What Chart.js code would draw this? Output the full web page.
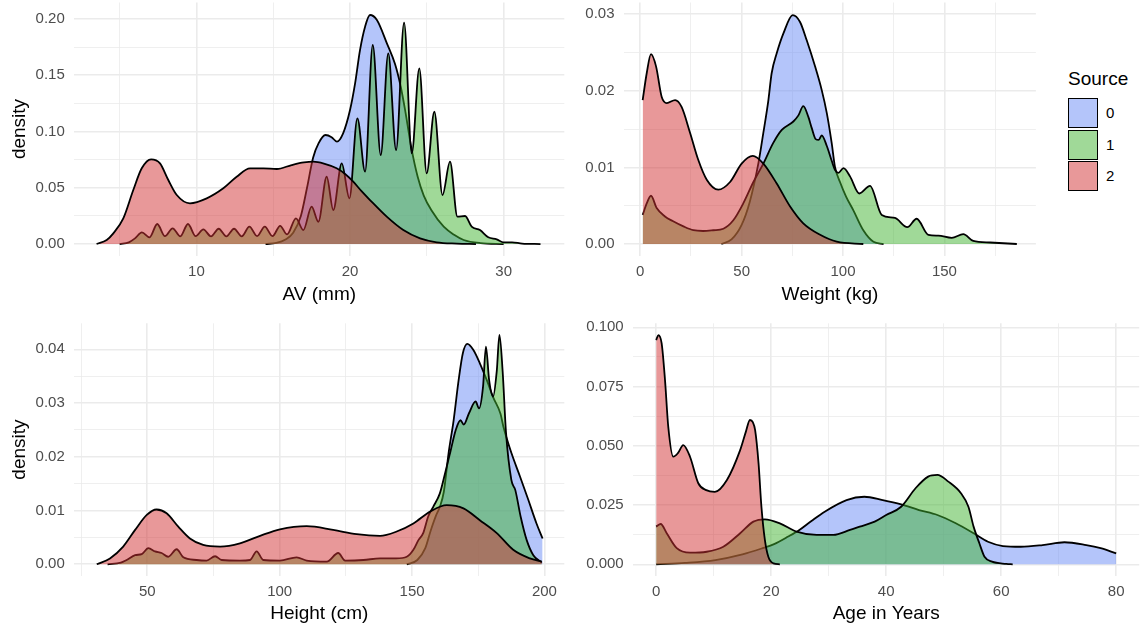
<!DOCTYPE html>
<html>
<head>
<meta charset="utf-8">
<script src="https://cdn.jsdelivr.net/npm/chart.js@4.4.0/dist/chart.umd.min.js"></script>
<style>
body { margin:0; background:#fff; width:1141px; height:629px; position:relative; overflow:hidden;
       font-family:"Liberation Sans", Arial, sans-serif; }
canvas { position:absolute; }
.key { position:absolute; left:1068px; width:30px; height:30px; box-sizing:border-box; border:1.8px solid #000; }
.lab { position:absolute; left:1106px; font-size:15px; line-height:18px; color:#000; }
</style>
</head>
<body>
<canvas id="av" width="570" height="310" style="left:0;top:0"></canvas>
<canvas id="weight" width="470" height="310" style="left:570px;top:0"></canvas>
<canvas id="height" width="570" height="319" style="left:0;top:310px"></canvas>
<canvas id="age" width="571" height="319" style="left:570px;top:310px"></canvas>

<div class="lab" style="left:1068px;top:68px;font-size:19px;line-height:22px">Source</div>
<div id="keys"></div>

<script>
// legend / groups
var sources = ['0', '1', '2'];
var fills = ['rgba(105,140,245,0.5)', 'rgba(65,180,50,0.5)', 'rgba(210,50,52,0.5)'];

// ---- AV (mm)
var avBlueX = [14.5, 15.2, 15.8, 16.3, 16.8, 17.2, 17.6, 17.95, 18.4, 18.8, 19.15, 19.55, 20.0, 20.33, 20.65, 20.98, 21.3, 21.75, 22.4, 22.93, 23.3, 23.6, 24.0, 24.4, 24.8, 25.3, 26.1, 26.8, 27.4, 28.5, 30];
var avBlueY = [0, 0.001, 0.004, 0.01, 0.025, 0.05, 0.077, 0.0895, 0.0969, 0.095, 0.091, 0.0984, 0.1191, 0.1428, 0.1724, 0.1932, 0.2036, 0.1991, 0.1784, 0.16, 0.14, 0.118, 0.085, 0.06, 0.043, 0.03, 0.0154, 0.008, 0.0036, 0.0008, 0];
var avGreenX = [5.0, 5.6, 6.0, 6.45, 6.95, 7.45, 7.95, 8.45, 8.95, 9.45, 9.95, 10.45, 10.95, 11.45, 11.95, 12.45, 12.95, 13.45, 13.95, 14.45, 14.95, 15.45, 15.9, 16.48, 16.96, 17.5, 17.94, 18.48, 18.91, 19.46, 19.96, 20.48, 20.98, 21.48, 22.0, 22.49, 23.0, 23.52, 24.02, 24.51, 24.99, 25.49, 26.02, 26.51, 26.99, 27.49, 27.92, 28.46, 29.0, 29.55, 30.0, 30.55, 31.2, 32.4];
var avGreenY = [0, 0.0015, 0.005, 0.0104, 0.006, 0.0178, 0.007, 0.014, 0.0068, 0.0178, 0.007, 0.013, 0.0068, 0.0136, 0.0068, 0.0136, 0.0068, 0.0154, 0.007, 0.0154, 0.007, 0.0162, 0.0085, 0.0228, 0.0124, 0.0332, 0.0198, 0.0598, 0.0302, 0.0717, 0.0406, 0.1117, 0.0643, 0.1769, 0.0791, 0.1695, 0.0836, 0.1967, 0.0806, 0.1561, 0.0628, 0.1176, 0.0436, 0.0732, 0.0243, 0.0249, 0.0154, 0.0124, 0.006, 0.0042, 0.0015, 0.0015, 0.0004, 0];
var avRedX = [3.5, 4.16, 4.59, 5.24, 5.89, 6.44, 7.05, 7.63, 8.17, 8.72, 9.58, 10.67, 11.75, 12.62, 13.49, 14.36, 15.23, 16.2, 17.0, 17.6, 18.3, 19.13, 19.7, 20.21, 20.75, 21.3, 22.39, 23.47, 24.56, 25.64, 26.95, 28.2];
var avRedY = [0, 0.0036, 0.0095, 0.0228, 0.048, 0.0673, 0.0753, 0.0717, 0.0569, 0.0436, 0.0362, 0.0406, 0.0495, 0.0598, 0.0673, 0.0673, 0.0667, 0.0702, 0.0725, 0.0732, 0.0715, 0.0673, 0.062, 0.0554, 0.047, 0.0391, 0.0243, 0.0124, 0.005, 0.0015, 0.0004, 0];

// ---- Weight (kg)
var wBlueX = [40, 45, 50, 54, 58.3, 60.7, 63.2, 64.8, 67.3, 70.6, 75.2, 78.8, 82.1, 86.2, 89.5, 92, 94.4, 96, 98.5, 101.5, 105.1, 110, 115, 120];
var wBlueY = [0, 0.0006, 0.0025, 0.0055, 0.0106, 0.0145, 0.0188, 0.0223, 0.0249, 0.0275, 0.0299, 0.029, 0.0266, 0.0232, 0.0201, 0.0171, 0.0132, 0.0101, 0.0081, 0.0062, 0.0044, 0.0018, 0.0003, 0];
var wGreenX = [1.2, 3.2, 5.3, 8.1, 12.2, 16, 21.3, 26.2, 31, 36, 41, 45.9, 50.8, 55.8, 60.7, 65.6, 69.8, 75.5, 78, 80.4, 82.9, 84.5, 86.5, 88, 89.5, 92, 94.5, 96, 97.7, 100.2, 103.5, 108, 113.3, 119.1, 125.6, 131.7, 136.3, 142.1, 147, 153.6, 159.3, 164.2, 172.5, 185.7];
var wGreenY = [0.0038, 0.0053, 0.0063, 0.0047, 0.0036, 0.003, 0.0023, 0.0018, 0.0017, 0.0018, 0.002, 0.0031, 0.0053, 0.0081, 0.0105, 0.0132, 0.0149, 0.016, 0.0168, 0.018, 0.0166, 0.0152, 0.0137, 0.0136, 0.0142, 0.0128, 0.0108, 0.0097, 0.0093, 0.0099, 0.0088, 0.0066, 0.0076, 0.0038, 0.0034, 0.0022, 0.0033, 0.0012, 0.0011, 0.0008, 0.0013, 0.0004, 0.0002, 0];
var wRedX = [1.2, 3.2, 5.3, 7.8, 10.6, 13.1, 17.2, 20.4, 24.6, 28.6, 32.8, 38.5, 44.3, 50, 55.5, 60.7, 67.3, 73.9, 80.4, 88.7, 96.9, 110];
var wRedY = [0.0188, 0.0223, 0.0248, 0.0232, 0.0192, 0.0184, 0.0188, 0.0179, 0.0145, 0.011, 0.0084, 0.0071, 0.0081, 0.0105, 0.0115, 0.0105, 0.0079, 0.0049, 0.0027, 0.0012, 0.0003, 0];

// ---- Height (cm)
var hBlueX = [148, 152, 155, 157, 159, 160.5, 162, 163.8, 165.7, 167.6, 169.2, 170.9, 173.1, 175.6, 178.2, 180.7, 183.4, 184.5, 187.6, 190.8, 193.9, 197, 199.3];
var hBlueY = [0, 0.0008, 0.003, 0.0062, 0.009, 0.0107, 0.0135, 0.0207, 0.0268, 0.0343, 0.0393, 0.041, 0.0399, 0.0374, 0.0343, 0.031, 0.028, 0.0256, 0.0206, 0.0163, 0.012, 0.0076, 0.0048];
var hGreenX = [35, 40, 42.2, 45.4, 47.9, 50.4, 52.9, 55.4, 57.9, 61.1, 63.6, 68.6, 72.4, 75.6, 78.1, 85, 88.8, 91.3, 93.8, 100.1, 106.4, 110.2, 117.8, 122.1, 124.7, 131.6, 137.9, 144, 148, 150.5, 152.4, 154.2, 156.1, 158, 160.5, 162.5, 164.5, 166.5, 168.3, 169.5, 171.5, 174, 175.3, 176.8, 177.9, 179.1, 180.6, 182, 183, 184.2, 185.5, 187.5, 189, 191, 193.3, 195.8, 199];
var hGreenY = [0, 0.0003, 0.0008, 0.0017, 0.0019, 0.003, 0.0024, 0.0021, 0.0014, 0.0028, 0.0013, 0.0008, 0.0007, 0.0015, 0.0008, 0.0007, 0.0008, 0.0024, 0.0008, 0.0007, 0.0013, 0.0007, 0.0005, 0.0021, 0.0007, 0.0008, 0.0011, 0.0011, 0.0014, 0.0027, 0.0045, 0.0058, 0.0089, 0.0107, 0.0132, 0.017, 0.021, 0.025, 0.0268, 0.026, 0.0281, 0.0303, 0.029, 0.033, 0.0405, 0.0343, 0.0312, 0.036, 0.0427, 0.036, 0.0244, 0.0157, 0.0138, 0.0089, 0.0045, 0.0017, 0.0003];
var hRedX = [30.9, 35.9, 40.9, 45.4, 49.8, 53.5, 57.3, 61.7, 66.1, 71.1, 77.5, 85, 92.6, 100.1, 110.2, 120.2, 129.1, 137.9, 144.2, 150.5, 156.8, 163.1, 169.4, 175.6, 182, 188.2, 194.5, 199];
var hRedY = [0, 0.0011, 0.0033, 0.0064, 0.0092, 0.0102, 0.0095, 0.007, 0.0048, 0.0036, 0.0033, 0.0039, 0.0053, 0.0065, 0.0071, 0.0064, 0.0056, 0.0053, 0.0061, 0.0076, 0.0098, 0.011, 0.0104, 0.0082, 0.0058, 0.0027, 0.0011, 0.0005];

// ---- Age in Years
var aBlueX = [0, 5, 10.3, 15, 18.5, 20.5, 22.96, 24.9, 27, 29.3, 33.1, 36.2, 39.4, 42.6, 45.7, 48.9, 52.1, 55.2, 57.7, 60.3, 63.4, 67.2, 71, 74.8, 77.3, 80];
var aBlueY = [0, 0.0006, 0.0018, 0.0042, 0.0068, 0.0085, 0.0117, 0.0145, 0.0183, 0.0222, 0.0271, 0.0285, 0.0271, 0.0253, 0.0229, 0.0208, 0.0173, 0.0131, 0.0095, 0.0077, 0.0074, 0.0081, 0.0093, 0.0081, 0.0068, 0.0046];
var aGreenX = [0, 0.78, 1.83, 3.57, 5.88, 8.78, 11.67, 14.6, 16.9, 18.9, 21.5, 24.4, 27.9, 30.8, 33.7, 35.4, 38, 40, 42.6, 45.1, 47.3, 48.9, 50.8, 53, 54.3, 55.2, 56.2, 57.1, 58.4, 60.9, 62];
var aGreenY = [0.0159, 0.017, 0.0131, 0.0068, 0.0049, 0.0053, 0.0074, 0.0131, 0.018, 0.019, 0.0173, 0.0138, 0.0124, 0.0124, 0.0145, 0.0159, 0.018, 0.0208, 0.0243, 0.0321, 0.037, 0.0377, 0.0349, 0.03, 0.0243, 0.0159, 0.0089, 0.0032, 0.0011, 0.0002, 0];
var aRedX = [0, 0.37, 0.95, 1.53, 2.1, 2.97, 3.8, 4.7, 5.88, 7.32, 8.7, 10.2, 12.3, 14.6, 15.6, 16.3, 16.8, 17.2, 17.8, 18.3, 18.9, 19.5, 20.4, 21.5];
var aRedY = [0.0946, 0.0967, 0.0932, 0.0778, 0.058, 0.0454, 0.047, 0.0503, 0.0454, 0.0342, 0.0313, 0.0306, 0.0356, 0.0482, 0.056, 0.0609, 0.06, 0.0567, 0.0426, 0.0243, 0.0103, 0.0032, 0.0004, 0];

// axis ticks (major = labelled, minor = grid only)
var avXMajor = [10, 20, 30], avXMinor = [5, 15, 25];
var avYMajor = [0, 0.05, 0.1, 0.15, 0.2], avYMinor = [0.025, 0.075, 0.125, 0.175];
var wXMajor = [0, 50, 100, 150], wXMinor = [25, 75, 125, 175];
var wYMajor = [0, 0.01, 0.02, 0.03], wYMinor = [0.005, 0.015, 0.025];
var hXMajor = [50, 100, 150, 200], hXMinor = [25, 75, 125, 175];
var hYMajor = [0, 0.01, 0.02, 0.03, 0.04], hYMinor = [0.005, 0.015, 0.025, 0.035];
var aXMajor = [0, 20, 40, 60, 80], aXMinor = [10, 30, 50, 70];
var aYMajor = [0, 0.025, 0.05, 0.075, 0.1], aYMinor = [0.0125, 0.0375, 0.0625, 0.0875];

Chart.defaults.font.family = '"Liberation Sans", Arial, sans-serif';

function pts(xs, ys) {
  return xs.map(function (x, i) { return { x: x, y: ys[i] }; });
}

function axis(major, minor, min, max, fmt, title, o) {
  var all = major.concat(minor).sort(function (a, b) { return a - b; });
  return {
    type: 'linear', min: min, max: max,
    afterBuildTicks: function (s) { s.ticks = all.map(function (v) { return { value: v }; }); },
    afterFit: o.fit,
    ticks: {
      autoSkip: false, maxRotation: 0, padding: o.pad, color: '#4d4d4d', font: { size: 15 },
      callback: function (v) { return major.indexOf(v) >= 0 ? fmt(v) : ''; }
    },
    grid: {
      drawTicks: false, color: '#ebebeb',
      lineWidth: function (c) { return (c.tick && major.indexOf(c.tick.value) >= 0) ? 1.6 : 0.8; }
    },
    border: { display: false },
    title: { display: !!title, text: title, color: '#000', font: { size: 19 }, padding: o.tpad }
  };
}

function panel(id, p) {
  var series = [[p.bx, p.by], [p.gx, p.gy], [p.rx, p.ry]];
  var datasets = series.map(function (s, i) {
    return {
      label: sources[i], data: pts(s[0], s[1]), fill: 'origin',
      backgroundColor: fills[i], borderColor: '#000', borderWidth: 1.8,
      pointRadius: 0, cubicInterpolationMode: 'monotone', order: 3 - i
    };
  });
  new Chart(document.getElementById(id), {
    type: 'line',
    data: { datasets: datasets },
    options: {
      responsive: false, animation: false, devicePixelRatio: 1, events: [],
      layout: { padding: { left: 0, top: p.top, right: p.right, bottom: 0 } },
      plugins: { legend: { display: false }, tooltip: { enabled: false }, filler: { drawTime: 'beforeDatasetDraw' } },
      scales: {
        x: axis(p.xMajor, p.xMinor, p.xMin, p.xMax, function (v) { return String(v); }, p.xTitle, {
          pad: 7.5, tpad: { top: 0, bottom: 4.3 },
          fit: function (s) { s.height = p.xh; s.paddingLeft = 0; s.paddingRight = 0; }
        }),
        y: axis(p.yMajor, p.yMinor, p.yMin, p.yMax, function (v) { return v.toFixed(p.dec); }, p.yTitle, {
          pad: 9.5, tpad: { top: 8.6, bottom: 0 },
          fit: function (s) { s.width = p.yw; s.paddingTop = 0; s.paddingBottom = 0; }
        })
      }
    }
  });
}

panel('av', {
  bx: avBlueX, by: avBlueY, gx: avGreenX, gy: avGreenY, rx: avRedX, ry: avRedY,
  xMajor: avXMajor, xMinor: avXMinor, yMajor: avYMajor, yMinor: avYMinor,
  xMin: 2.05, xMax: 33.95, yMin: -0.0102, yMax: 0.2147, dec: 2,
  xTitle: 'AV (mm)', yTitle: 'density', top: 2.5, right: 5.7, xh: 54.5, yw: 74.3
});
panel('weight', {
  bx: wBlueX, by: wBlueY, gx: wGreenX, gy: wGreenY, rx: wRedX, ry: wRedY,
  xMajor: wXMajor, xMinor: wXMinor, yMajor: wYMajor, yMinor: wYMinor,
  xMin: -8, xMax: 195.1, yMin: -0.0015, yMax: 0.03154, dec: 2,
  xTitle: 'Weight (kg)', yTitle: '', top: 2.5, right: 4.1, xh: 54.5, yw: 54
});
panel('height', {
  bx: hBlueX, by: hBlueY, gx: hGreenX, gy: hGreenY, rx: hRedX, ry: hRedY,
  xMajor: hXMajor, xMinor: hXMinor, yMajor: hYMajor, yMinor: hYMinor,
  xMin: 22.43, xMax: 207.5, yMin: -0.00214, yMax: 0.04484, dec: 2,
  xTitle: 'Height (cm)', yTitle: 'density', top: 13.3, right: 5.7, xh: 53.2, yw: 74.3
});
panel('age', {
  bx: aBlueX, by: aBlueY, gx: aGreenX, gy: aGreenY, rx: aRedX, ry: aRedY,
  xMajor: aXMajor, xMinor: aXMinor, yMajor: aYMajor, yMinor: aYMinor,
  xMin: -4, xMax: 84, yMin: -0.00485, yMax: 0.1017, dec: 3,
  xTitle: 'Age in Years', yTitle: '', top: 13.3, right: 1.8, xh: 53.2, yw: 63.2
});

// legend keys
var keyTops = [97.5, 129.5, 161];
var keys = document.getElementById('keys');
sources.forEach(function (s, i) {
  var k = document.createElement('div');
  k.className = 'key';
  k.style.top = keyTops[i] + 'px';
  k.style.background = fills[i];
  keys.appendChild(k);
  var l = document.createElement('div');
  l.className = 'lab';
  l.style.top = (keyTops[i] + 6) + 'px';
  l.textContent = s;
  keys.appendChild(l);
});
</script>
</body>
</html>
